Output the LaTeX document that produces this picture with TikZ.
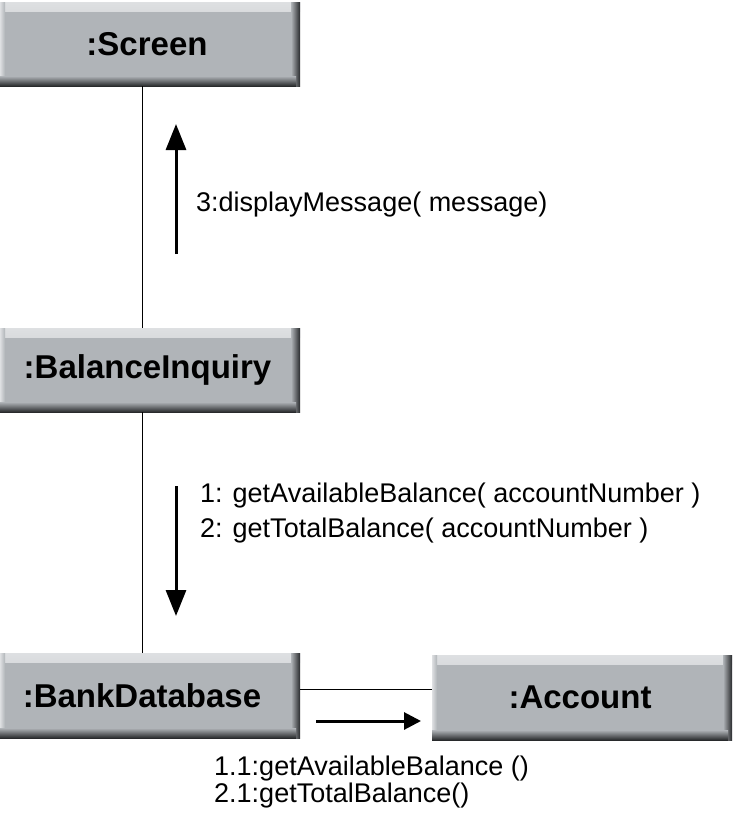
\documentclass[tikz,border=0pt]{standalone}
\usepackage{fontspec}
\setmainfont{Liberation Sans}
\usetikzlibrary{arrows.meta}
\definecolor{boxgray}{RGB}{176,180,184}
\definecolor{boxdark}{RGB}{40,42,44}
\definecolor{boxlight}{RGB}{222,224,226}
\tikzset{
  obj/.style={minimum width=300pt, minimum height=84pt, inner sep=0pt, fill=boxgray,
    font=\bfseries\fontsize{33}{37}\selectfont,
    path picture={
      \fill[top color=boxlight, bottom color=boxgray]
        (path picture bounding box.north west) rectangle ([yshift=-9pt]path picture bounding box.north east);
      \fill[left color=boxlight, right color=boxgray]
        (path picture bounding box.north west) rectangle ([xshift=5pt,yshift=9pt]path picture bounding box.south west);
      \fill[left color=boxgray, right color=boxdark]
        ([xshift=-9pt]path picture bounding box.north east) rectangle (path picture bounding box.south east);
      \fill[top color=boxgray, bottom color=boxdark]
        ([yshift=10pt]path picture bounding box.south west) rectangle ([xshift=-4pt]path picture bounding box.south east);
    }},
  msg/.style={font=\fontsize{27}{31}\selectfont, inner sep=0pt, anchor=base west},
  link/.style={draw=black, line width=1pt},
  flow/.style={line width=3pt, -{Triangle[width=20pt,length=26pt]}},
  flowsmall/.style={line width=3pt, -{Triangle[width=17pt,length=17pt]}}
}
\begin{document}
\begin{tikzpicture}[x=1pt,y=-1pt]
\useasboundingbox[fill=white] (0,0) rectangle (732,827);

\node[obj] (scr) at (150,44) {\hspace*{-6pt}:Screen};
\node[obj] (bi) at (150,370) {\hspace*{-5pt}:BalanceInquiry};
\node[obj, minimum height=85pt] (bd) at (150,695.5) {\hspace*{-16pt}:BankDatabase};
\node[obj, minimum height=85pt] (acc) at (582,697.5) {\hspace*{-4pt}:Account};

\draw[link] ([xshift=-8pt]scr.south) -- ([xshift=-8pt]bi.north);
\draw[link] ([xshift=-8pt]bi.south) -- ([xshift=-8pt]bd.north);
\coordinate (hy) at (0,689);
\draw[link] (bd.east |- hy) -- (acc.west |- hy);

\coordinate (a1s) at (176,254);
\coordinate (a1e) at (176,124);
\draw[flow] (a1s) -- (a1e);
\coordinate (a2s) at (176,486);
\coordinate (a2e) at (176,616);
\draw[flow] (a2s) -- (a2e);
\coordinate (a3s) at (316,721);
\coordinate (a3e) at (421,721);
\draw[flowsmall] (a3s) -- (a3e);

\node[msg] (m3) at (196,211) {3:displayMessage( message)};
\node[msg] (m1) at (200,502) {1: getAvailableBalance( accountNumber )};
\node[msg] (m2) at (200,537) {2: getTotalBalance( accountNumber )};
\node[msg] (m11) at (214,775) {1.1:getAvailableBalance ()};
\node[msg] (m21) at (214,802) {2.1:getTotalBalance()};
\end{tikzpicture}
\end{document}
